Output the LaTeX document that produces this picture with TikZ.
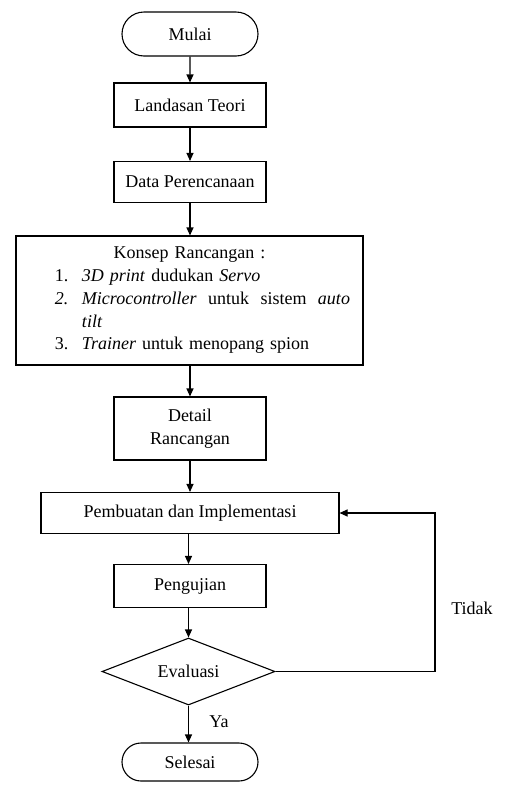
\documentclass[tikz,border=0pt]{standalone}
\usepackage{fontspec}
\setmainfont{Liberation Serif}
\usetikzlibrary{arrows.meta,shapes.geometric,shapes.misc}
\setlength{\parindent}{0pt}

\begin{document}
\begin{tikzpicture}[x=1pt,y=1pt,line width=1.1pt,
  font=\fontsize{18}{22.75}\selectfont,
  kotak/.style={draw,rectangle,minimum width=152pt,inner sep=0pt,align=center},
  ujung/.style={draw,rounded rectangle,minimum width=136pt,inner sep=0pt},
  panah/.style={-{Triangle[length=8pt,width=7pt]}}]
  \useasboundingbox (0,0) rectangle (504,-785);

  \node[ujung,minimum height=44pt] (mulai) at (190,-34) {Mulai};
  \node[kotak,minimum height=44pt] (landasan) at (190,-105) {Landasan Teori};
  \node[kotak,minimum height=41pt] (data) at (190,-182) {Data Perencanaan};
  \node[kotak,minimum width=347pt,minimum height=129pt,text width=347pt,align=left] (konsep) at (189.5,-300.5)
    {\makebox[347pt][c]{Konsep Rancangan :}\\
     \hspace*{39pt}\makebox[27pt][l]{1.}\textit{3D print} dudukan \textit{Servo}\\
     \hspace*{39pt}\makebox[27pt][l]{\textit{2.}}\hbox to 268pt{\textit{Microcontroller}\hfill untuk\hfill sistem\hfill\textit{auto}}\\
     \hspace*{66pt}\textit{tilt}\\
     \hspace*{39pt}\makebox[27pt][l]{3.}\textit{Trainer} untuk menopang spion};
  \node[kotak,minimum height=63pt] (detail) at (190,-428.5) {Detail\\Rancangan};
  \node[kotak,minimum width=298pt,minimum height=41pt] (pembuatan) at (190,-513) {Pembuatan dan Implementasi};
  \node[kotak,minimum height=43pt] (pengujian) at (190,-586) {Pengujian};
  \node[draw,diamond,aspect=2.58,minimum width=173pt,minimum height=67pt,inner sep=0pt] (evaluasi) at (188.5,-671.5) {Evaluasi};
  \node[ujung,minimum height=38pt] (selesai) at (190,-762) {Selesai};
  \coordinate (balik) at (435,-513);

  \draw[panah] (mulai) -- (landasan);
  \draw[panah] (landasan) -- (data);
  \draw[panah] (data) -- (konsep.north -| data);
  \draw[panah] (konsep.south -| detail) -- (detail);
  \draw[panah] (detail) -- (pembuatan);
  \draw[panah] (pembuatan.south -| evaluasi) -- (pengujian.north -| evaluasi);
  \draw[panah] (pengujian.south -| evaluasi) -- (evaluasi);
  \draw[panah] (evaluasi) -- (selesai.north -| evaluasi);
  \draw[panah] (evaluasi.east) -| (balik) -- (pembuatan.east);

  \node (tidak) at (472,-608) {Tidak};
  \node (ya) at (219,-722) {Ya};
\end{tikzpicture}
\end{document}
